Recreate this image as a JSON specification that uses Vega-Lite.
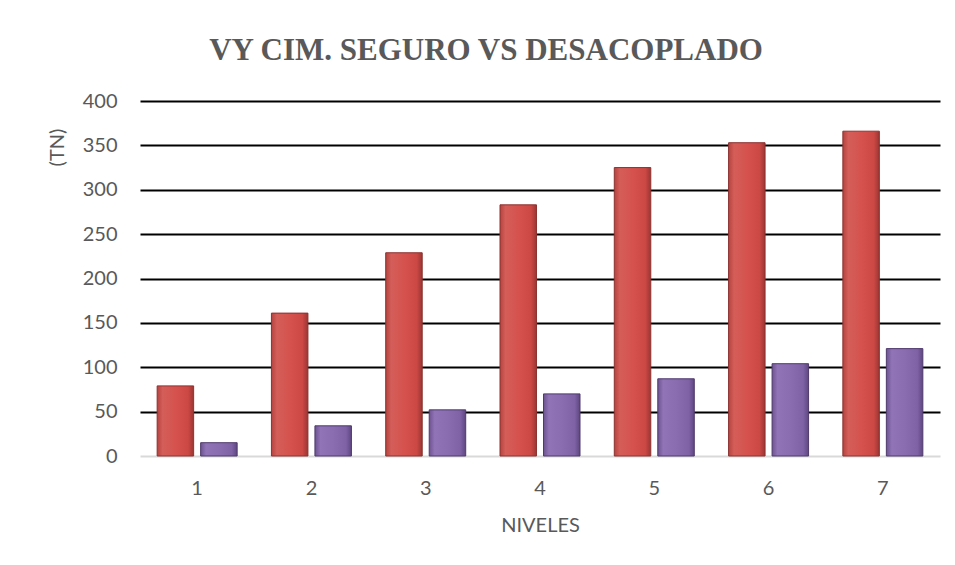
{
  "$schema": "https://vega.github.io/schema/vega-lite/v6.json",
  "width": 800,
  "height": 355,
  "autosize": {"type": "none"},
  "padding": {"left": 140, "top": 101, "right": 15, "bottom": 109},
  "background": "white",
  "title": {
    "text": "VY CIM. SEGURO VS DESACOPLADO",
    "font": "Liberation Serif",
    "fontSize": 31,
    "fontWeight": "bold",
    "color": "#595959",
    "anchor": "middle",
    "frame": "group",
    "dx": -54,
    "offset": 24
  },
  "data": {
    "values": [
      {"nivel": "1", "serie": "SEGURO", "tn": 79},
      {"nivel": "1", "serie": "DESACOPLADO", "tn": 15},
      {"nivel": "2", "serie": "SEGURO", "tn": 161},
      {"nivel": "2", "serie": "DESACOPLADO", "tn": 34},
      {"nivel": "3", "serie": "SEGURO", "tn": 229},
      {"nivel": "3", "serie": "DESACOPLADO", "tn": 52},
      {"nivel": "4", "serie": "SEGURO", "tn": 283},
      {"nivel": "4", "serie": "DESACOPLADO", "tn": 70},
      {"nivel": "5", "serie": "SEGURO", "tn": 325},
      {"nivel": "5", "serie": "DESACOPLADO", "tn": 87},
      {"nivel": "6", "serie": "SEGURO", "tn": 353},
      {"nivel": "6", "serie": "DESACOPLADO", "tn": 104},
      {"nivel": "7", "serie": "SEGURO", "tn": 366},
      {"nivel": "7", "serie": "DESACOPLADO", "tn": 121}
    ]
  },
  "mark": {"type": "bar", "strokeWidth": 1},
  "encoding": {
    "x": {
      "field": "nivel",
      "type": "ordinal",
      "sort": ["1", "2", "3", "4", "5", "6", "7"],
      "scale": {"paddingInner": 0.3, "paddingOuter": 0.15},
      "axis": {
        "title": "NIVELES",
        "labelAngle": 0,
        "ticks": false,
        "domainColor": "#d9d9d9",
        "domainWidth": 2,
        "labelFont": "Lato",
        "labelFontSize": 20,
        "labelColor": "#595959",
        "labelPadding": 22,
        "titleFont": "Lato",
        "titleFontSize": 20,
        "titleFontWeight": "normal",
        "titleColor": "#595959",
        "titlePadding": 17
      }
    },
    "xOffset": {
      "field": "serie",
      "type": "nominal",
      "sort": ["SEGURO", "DESACOPLADO"],
      "scale": {"paddingInner": 0.161, "paddingOuter": 0}
    },
    "y": {
      "field": "tn",
      "type": "quantitative",
      "scale": {"domain": [0, 400], "nice": false},
      "axis": {
        "title": "(TN)",
        "values": [0, 50, 100, 150, 200, 250, 300, 350, 400],
        "domain": false,
        "ticks": false,
        "gridColor": "black",
        "gridWidth": 2,
        "gridOpacity": {"condition": {"test": "datum.value === 0", "value": 0}, "value": 1},
        "labelFont": "Lato",
        "labelFontSize": 20,
        "labelColor": "#595959",
        "labelPadding": 23,
        "titleFont": "Lato",
        "titleFontSize": 20,
        "titleFontWeight": "normal",
        "titleColor": "#595959",
        "titleAngle": -90,
        "titleAnchor": null,
        "titleBaseline": "middle",
        "titleAlign": "center",
        "titleX": -83,
        "titleY": 46
      }
    },
    "fill": {
      "condition": {
        "test": "datum.serie === 'SEGURO'",
        "value": {
          "gradient": "linear", "x1": 0, "y1": 0, "x2": 1, "y2": 0,
          "stops": [
            {"offset": 0, "color": "#b5433f"},
            {"offset": 0.15, "color": "#d45e59"},
            {"offset": 0.5, "color": "#d5524e"},
            {"offset": 0.85, "color": "#cc4844"},
            {"offset": 1, "color": "#9a3633"}
          ]
        }
      },
      "value": {
        "gradient": "linear", "x1": 0, "y1": 0, "x2": 1, "y2": 0,
        "stops": [
          {"offset": 0, "color": "#6e5390"},
          {"offset": 0.15, "color": "#9074b7"},
          {"offset": 0.5, "color": "#8a6cb1"},
          {"offset": 0.85, "color": "#7f62a6"},
          {"offset": 1, "color": "#5f4780"}
        ]
      }
    },
    "stroke": {
      "condition": {"test": "datum.serie === 'SEGURO'", "value": "#8c3230"},
      "value": "#4f3a6c"
    }
  },
  "config": {
    "view": {"stroke": null}
  }
}
